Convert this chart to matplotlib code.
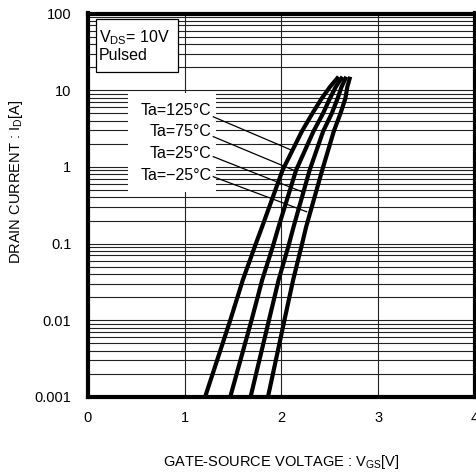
import matplotlib
matplotlib.use("Agg")
import matplotlib.pyplot as plt
from matplotlib.ticker import LogLocator, NullFormatter, FixedLocator
from matplotlib.patches import Rectangle

plt.rcParams['font.family'] = ['Liberation Sans', 'DejaVu Sans']
plt.rcParams['mathtext.fontset'] = 'custom'
plt.rcParams['mathtext.rm'] = 'Liberation Sans'

# Drain current levels (A) where the curves were read
current = [0.001, 0.01, 0.0335, 0.096, 0.166, 0.9, 2.9, 5, 7.8, 11, 15]
# Gate-source voltage (V) for each temperature at those current levels
vgs_125 = [1.21, 1.47, 1.60, 1.73, 1.80, 2.01, 2.21, 2.32, 2.415, 2.50, 2.59]
vgs_75 = [1.47, 1.69, 1.80, 1.915, 1.97, 2.15, 2.33, 2.43, 2.50, 2.56, 2.63]
vgs_25 = [1.68, 1.87, 1.97, 2.075, 2.125, 2.29, 2.43, 2.52, 2.58, 2.62, 2.67]
vgs_m25 = [1.86, 2.03, 2.12, 2.21, 2.255, 2.42, 2.54, 2.61, 2.66, 2.68, 2.71]

labels = ['Ta=125°C', 'Ta=75°C', 'Ta=25°C', 'Ta=\u221225°C']
label_pos = [(1.278, 5.4), (1.278, 2.88), (1.278, 1.50), (1.278, 0.78)]
leader_start = [(1.295, 4.5), (1.295, 2.48), (1.295, 1.36), (1.295, 0.745)]
leader_end = [(2.10, 1.66), (2.14, 0.89), (2.21, 0.475), (2.26, 0.26)]

x_ticks = [0, 1, 2, 3, 4]
y_ticks = [0.001, 0.01, 0.1, 1, 10, 100]
y_ticklabels = ['0.001', '0.01', '0.1', '1', '10', '100']

fig = plt.figure(figsize=(4.77, 4.74), dpi=100)
ax = fig.add_axes([88/477, 77/474, 387/477, 383.5/474])

ax.set_xscale('linear')
ax.set_yscale('log')
ax.set_xlim(0, 4)
ax.set_ylim(0.001, 100)

ax.set_xticks(x_ticks)
ax.set_xticklabels([str(t) for t in x_ticks])
ax.set_yticks(y_ticks)
ax.set_yticklabels(y_ticklabels)
ax.yaxis.set_minor_locator(LogLocator(base=10, subs=range(2, 10), numticks=20))
ax.yaxis.set_minor_formatter(NullFormatter())
ax.tick_params(which='both', length=0, labelsize=10.5)
ax.tick_params(axis='x', pad=10)
ax.tick_params(axis='y', pad=12)

ax.grid(True, which='major', axis='both', color='#222222', lw=0.8)
ax.grid(True, which='minor', axis='y', color='#222222', lw=0.8)
ax.set_axisbelow(True)

for s in ax.spines.values():
    s.set_linewidth(3.0)
    s.set_zorder(10)

for v in [vgs_125, vgs_75, vgs_25, vgs_m25]:
    ax.plot(v, current, color='black', lw=3.0, solid_capstyle='butt', zorder=5)

# white area behind labels
ax.add_patch(Rectangle((0.103, 0.5346), 0.228, 0.2584, transform=ax.transAxes,
                       facecolor='white', edgecolor='none', zorder=3))
for lab, (x, y), (x0, y0), (x1, y1) in zip(labels, label_pos, leader_start, leader_end):
    ax.text(x, y, lab, ha='right', va='center', fontsize=11.5, zorder=6)
    ax.plot([x0, x1], [y0, y1], color='black', lw=0.9, zorder=4)

# condition box
ax.add_patch(Rectangle((0.0207, 0.8475), 0.212, 0.138, transform=ax.transAxes,
                       facecolor='white', edgecolor='black', lw=0.9, zorder=6))
ax.text(0.029, 0.936, r'V$_\mathregular{DS}$= 10V', transform=ax.transAxes,
        ha='left', va='center', fontsize=11.5, zorder=7)
ax.text(0.029, 0.890, 'Pulsed', transform=ax.transAxes,
        ha='left', va='center', fontsize=11.5, zorder=7)

fig.text(281.5/477, 1 - 462/474, r'GATE-SOURCE VOLTAGE : V$_\mathregular{GS}$[V]',
         ha='center', va='center', fontsize=10.5)
fig.text(16/477, 1 - 182/474, r'DRAIN CURRENT : I$_\mathregular{D}$[A]',
         ha='center', va='center', rotation=90, fontsize=10.5)

fig.savefig('out.png', dpi=100)
